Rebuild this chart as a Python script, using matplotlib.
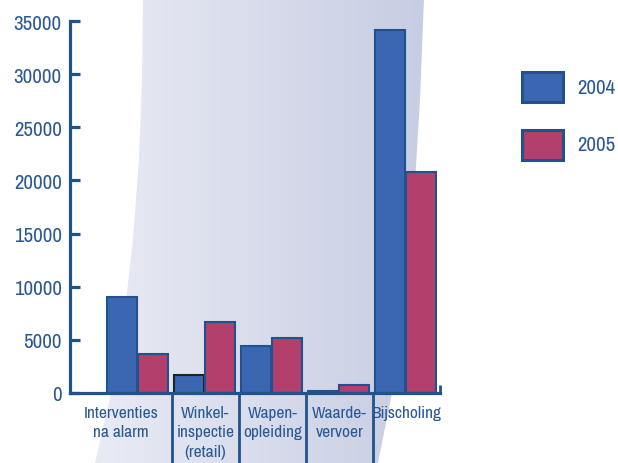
import matplotlib
matplotlib.use('Agg')
from matplotlib import pyplot as plt
from matplotlib import font_manager
from matplotlib.patches import Polygon, Rectangle
import numpy as np

categories = ['Interventies\nna alarm', 'Winkel-\ninspectie\n(retail)', 'Wapen-\nopleiding',
              'Waarde-\nvervoer', 'Bijscholing']
values2004 = [9000, 1700, 4400, 200, 34150]
values2005 = [3700, 6700, 5200, 750, 20800]
series = ['2004', '2005']
yticks = [0, 5000, 10000, 15000, 20000, 25000, 30000, 35000]

navy = '#22528c'
textColor = '#2a5894'
blue = '#3b67b2'
red = '#b23f6c'

# look for a condensed face, the reference uses a narrow sans
narrowFonts = sorted({f.name for f in font_manager.fontManager.ttflist
                      if 'Narrow' in f.name or 'Condensed' in f.name
                      or f.stretch in ('condensed', 'semi-condensed', 'extra-condensed')})
if narrowFonts:
    plt.rcParams['font.family'] = [narrowFonts[0], 'DejaVu Sans']
    tickSize, catSize = 15, 12.5
else:
    plt.rcParams['font.family'] = ['Liberation Sans', 'DejaVu Sans']
    tickSize, catSize = 13, 10.5

fig = plt.figure(figsize=(6.18, 4.64), dpi=100)

# background band with gradient (pixel coordinates)
bg = fig.add_axes([0, 0, 1, 1], zorder=-1)
bg.set_xlim(0, 618)
bg.set_ylim(464, 0)
bg.axis('off')
bandPts = [(143, 0), (142, 80), (139, 160), (133, 240), (124, 320), (112, 390), (95, 464),
           (378, 464), (392, 394), (405, 300), (414, 200), (420, 100), (424, 0)]
band = Polygon(bandPts, closed=True, facecolor='none', edgecolor='none')
bg.add_patch(band)
grad = np.linspace(0, 1, 256).reshape(1, -1)
cmap = matplotlib.colors.LinearSegmentedColormap.from_list('band', ['#e9ebf4', '#c7cde3'])
img = bg.imshow(grad, extent=(95, 424, 464, 0), aspect='auto', cmap=cmap, zorder=0)
img.set_clip_path(band)

ax = fig.add_axes([70 / 618, (464 - 394) / 464, 370 / 618, 372 / 464])
ax.patch.set_alpha(0)

x = np.arange(len(categories))
w = 0.45
edges2004 = [navy] * len(categories)
edges2004[1] = '#222222'
ax.bar(x - w / 2 - 0.025, values2004, w, color=blue, edgecolor=edges2004, linewidth=1.5, zorder=3)
ax.bar(x + w / 2 - 0.005, values2005, w, color=red, edgecolor=navy, linewidth=1.5, zorder=3)

ax.set_xlim(-1.02, 4.5)
ax.set_ylim(0, 35000)

for side in ['top', 'right']:
    ax.spines[side].set_visible(False)
for side in ['left', 'bottom']:
    ax.spines[side].set_color(navy)
    ax.spines[side].set_linewidth(2.3)
    ax.spines[side].set_zorder(4)

ax.set_yticks(yticks)
ax.set_yticklabels([str(v) for v in yticks], fontsize=tickSize, color=textColor)
ax.tick_params(axis='y', direction='in', length=7, width=2.3, color=navy, pad=6)
for i in (0, 5):
    ax.yaxis.get_major_ticks()[i].tick1line.set_color('#333333')
ax.set_xticks([])

# group separators below the axis
ax.vlines([0.5, 1.5, 2.5, 3.5], 0, -0.2, transform=ax.get_xaxis_transform(),
          color=navy, linewidth=2, clip_on=False)
ax.vlines([4.5], 0, 0.022, transform=ax.get_xaxis_transform(),
          color=navy, linewidth=2, clip_on=False)

labelX = [(-1.02 + 0.5) / 2, 1, 2, 3, 4]
for lx, lab in zip(labelX, categories):
    ax.text(lx, -0.032, lab, transform=ax.get_xaxis_transform(), ha='center', va='top',
            fontsize=catSize, color=textColor, linespacing=1.38)

# legend
for yTop, col, lab in [(73, blue, series[0]), (131, red, series[1])]:
    bg.add_patch(Rectangle((522, yTop), 41, 30, facecolor=col, edgecolor=navy, linewidth=2.2))
    bg.text(577, yTop + 15, lab, ha='left', va='center', fontsize=tickSize, color=textColor)

fig.savefig('out.png', dpi=100)
